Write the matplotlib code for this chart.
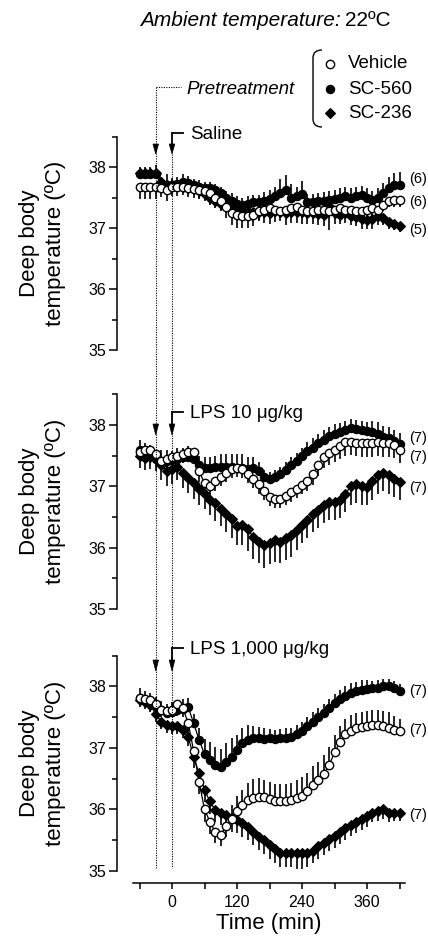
import matplotlib
matplotlib.use('Agg')
import matplotlib.pyplot as plt
import numpy as np
from matplotlib.patches import Polygon, PathPatch
from matplotlib.path import Path
from matplotlib.lines import Line2D

plt.rcParams['font.family'] = ['Liberation Sans', 'DejaVu Sans']

# ---------------- data ----------------
time_min = list(range(-60, 430, 10))  # 49 samples, 10-min interval

# Panel 1: Saline
veh1 = [37.68, 37.68, 37.68, 37.68, 37.66, 37.62, 37.67,
        37.67, 37.68, 37.66, 37.64, 37.62, 37.60, 37.58,
        37.50, 37.45, 37.35, 37.25, 37.22, 37.20, 37.20,
        37.22, 37.28, 37.30, 37.32, 37.30, 37.28, 37.30,
        37.32, 37.35, 37.30, 37.28, 37.28, 37.30, 37.30,
        37.28, 37.30, 37.32, 37.30, 37.30, 37.28, 37.28,
        37.30, 37.32, 37.30, 37.38, 37.45, 37.46, 37.46]
sc560_1 = [37.88, 37.88, 37.88, 37.88, 37.72, 37.70, 37.70,
           37.72, 37.76, 37.73, 37.70, 37.68, 37.66, 37.66,
           37.62, 37.58, 37.50, 37.45, 37.40, 37.38, 37.40,
           37.42, 37.42, 37.44, 37.47, 37.52, 37.58, 37.62,
           37.50, 37.52, 37.55, 37.43, 37.43, 37.44, 37.45,
           37.46, 37.48, 37.50, 37.52, 37.50, 37.52, 37.54,
           37.50, 37.46, 37.50, 37.58, 37.65, 37.70, 37.71]
sc236_1 = [37.90, 37.90, 37.90, 37.90, 37.76, 37.70, 37.70,
           37.71, 37.68, 37.66, 37.64, 37.60, 37.56, 37.50,
           37.45, 37.40, 37.36, 37.32, 37.30, 37.28, 37.27,
           37.27, 37.26, 37.27, 37.25, 37.28, 37.27, 37.25,
           37.27, 37.26, 37.27, 37.24, 37.25, 37.23, 37.22,
           37.36, 37.25, 37.22, 37.24, 37.20, 37.18, 37.14,
           37.13, 37.14, 37.20, 37.17, 37.10, 37.06, 37.04]
sem_veh1 = [0.20, 0.20, 0.20, 0.20, 0.15, 0.18, 0.15,
            0.15, 0.14, 0.15, 0.14, 0.15, 0.14, 0.15,
            0.15, 0.16, 0.18, 0.20, 0.22, 0.20, 0.20,
            0.18, 0.15, 0.14, 0.12, 0.12, 0.12, 0.12,
            0.12, 0.12, 0.14, 0.12, 0.12, 0.12, 0.12,
            0.12, 0.12, 0.12, 0.12, 0.12, 0.10, 0.10,
            0.10, 0.10, 0.10, 0.10, 0.10, 0.12, 0.12]
sem_560_1 = [0.12, 0.12, 0.12, 0.15, 0.12, 0.18, 0.12,
             0.12, 0.12, 0.12, 0.10, 0.10, 0.10, 0.10,
             0.10, 0.10, 0.10, 0.12, 0.12, 0.12, 0.12,
             0.12, 0.12, 0.15, 0.15, 0.15, 0.22, 0.25,
             0.22, 0.15, 0.22, 0.12, 0.12, 0.14, 0.14,
             0.14, 0.15, 0.15, 0.15, 0.15, 0.15, 0.15,
             0.15, 0.15, 0.15, 0.15, 0.18, 0.20, 0.20]
sem_236_1 = [0.10, 0.10, 0.10, 0.10, 0.10, 0.10, 0.10,
             0.10, 0.10, 0.10, 0.10, 0.10, 0.12, 0.12,
             0.12, 0.12, 0.12, 0.12, 0.15, 0.15, 0.15,
             0.15, 0.15, 0.18, 0.18, 0.18, 0.15, 0.20,
             0.18, 0.18, 0.20, 0.18, 0.18, 0.18, 0.18,
             0.40, 0.18, 0.15, 0.15, 0.15, 0.15, 0.15,
             0.15, 0.15, 0.15, 0.12, 0.12, 0.10, 0.10]

# Panel 2: LPS 10 ug/kg
veh2 = [37.56, 37.60, 37.60, 37.52, 37.42, 37.45, 37.48,
        37.50, 37.53, 37.56, 37.56, 37.25, 37.05, 37.00,
        37.08, 37.15, 37.22, 37.28, 37.30, 37.28, 37.20,
        37.12, 37.03, 36.93, 36.83, 36.79, 36.79, 36.84,
        36.90, 36.96, 37.02, 37.08, 37.20, 37.35, 37.48,
        37.55, 37.60, 37.66, 37.72, 37.73, 37.71, 37.70,
        37.70, 37.70, 37.72, 37.70, 37.70, 37.68, 37.60]
sc560_2 = [37.60, 37.55, 37.52, 37.45, 37.40, 37.42, 37.43,
           37.45, 37.47, 37.48, 37.45, 37.35, 37.30, 37.30,
           37.32, 37.32, 37.32, 37.32, 37.30, 37.30, 37.28,
           37.30, 37.25, 37.15, 37.12, 37.15, 37.20, 37.27,
           37.35, 37.42, 37.50, 37.57, 37.63, 37.70, 37.76,
           37.82, 37.86, 37.89, 37.92, 37.95, 37.93, 37.92,
           37.90, 37.88, 37.85, 37.80, 37.78, 37.74, 37.69]
sc236_2 = [37.50, 37.46, 37.48, 37.45, 37.35, 37.25, 37.28,
           37.32, 37.22, 37.14, 37.05, 36.95, 36.88, 36.78,
           36.72, 36.63, 36.55, 36.46, 36.36, 36.37, 36.30,
           36.17, 36.10, 36.05, 36.08, 36.12, 36.10, 36.15,
           36.20, 36.28, 36.37, 36.45, 36.55, 36.62, 36.70,
           36.75, 36.75, 36.78, 36.88, 37.00, 37.03, 37.00,
           36.99, 37.08, 37.18, 37.22, 37.18, 37.12, 37.07]
sem_veh2 = [0.12, 0.12, 0.12, 0.15, 0.15, 0.15, 0.15,
            0.15, 0.15, 0.15, 0.15, 0.18, 0.18, 0.15,
            0.15, 0.15, 0.15, 0.15, 0.15, 0.15, 0.15,
            0.15, 0.15, 0.15, 0.15, 0.15, 0.15, 0.15,
            0.15, 0.15, 0.15, 0.15, 0.18, 0.18, 0.18,
            0.20, 0.20, 0.22, 0.22, 0.22, 0.22, 0.22,
            0.22, 0.22, 0.22, 0.22, 0.22, 0.22, 0.22]
sem_560_2 = [0.15, 0.15, 0.15, 0.15, 0.20, 0.18, 0.15,
             0.18, 0.15, 0.18, 0.18, 0.15, 0.18, 0.18,
             0.18, 0.20, 0.20, 0.20, 0.22, 0.22, 0.20,
             0.18, 0.15, 0.12, 0.12, 0.12, 0.12, 0.12,
             0.12, 0.12, 0.12, 0.15, 0.15, 0.15, 0.15,
             0.15, 0.15, 0.15, 0.15, 0.15, 0.15, 0.15,
             0.15, 0.18, 0.20, 0.18, 0.18, 0.18, 0.18]
sem_236_2 = [0.20, 0.20, 0.20, 0.20, 0.25, 0.25, 0.25,
             0.22, 0.25, 0.25, 0.25, 0.25, 0.25, 0.25,
             0.28, 0.28, 0.30, 0.30, 0.32, 0.32, 0.35,
             0.35, 0.35, 0.38, 0.35, 0.35, 0.35, 0.35,
             0.35, 0.32, 0.30, 0.30, 0.30, 0.30, 0.30,
             0.30, 0.30, 0.30, 0.30, 0.30, 0.30, 0.30,
             0.30, 0.30, 0.30, 0.30, 0.30, 0.30, 0.30]

# Panel 3: LPS 1,000 ug/kg
veh3 = [37.82, 37.80, 37.78, 37.72, 37.62, 37.60, 37.62,
        37.72, 37.65, 37.40, 36.95, 36.45, 36.00, 35.80,
        35.63, 35.59, 35.73, 35.85, 35.97, 36.07, 36.15,
        36.19, 36.21, 36.20, 36.17, 36.14, 36.13, 36.14,
        36.15, 36.18, 36.22, 36.30, 36.40, 36.48, 36.58,
        36.72, 36.93, 37.10, 37.22, 37.28, 37.32, 37.34,
        37.35, 37.37, 37.37, 37.35, 37.33, 37.30, 37.27]
sc560_3 = [37.82, 37.78, 37.75, 37.68, 37.62, 37.57, 37.59,
           37.62, 37.64, 37.66, 37.40, 37.13, 36.90, 36.80,
           36.72, 36.69, 36.78, 36.86, 36.96, 37.08, 37.13,
           37.16, 37.16, 37.15, 37.16, 37.15, 37.16, 37.17,
           37.18, 37.22, 37.27, 37.35, 37.43, 37.50, 37.57,
           37.65, 37.73, 37.80, 37.85, 37.90, 37.93, 37.95,
           37.96, 37.97, 37.98, 38.00, 38.00, 37.97, 37.92]
sc236_3 = [37.78, 37.75, 37.70, 37.55, 37.43, 37.37, 37.35,
           37.35, 37.29, 37.18, 36.85, 36.59, 36.32, 36.13,
           35.99, 35.94, 35.91, 35.86, 35.83, 35.78, 35.72,
           35.64, 35.56, 35.50, 35.42, 35.35, 35.29, 35.29,
           35.29, 35.29, 35.29, 35.29, 35.33, 35.40, 35.46,
           35.52, 35.57, 35.64, 35.70, 35.75, 35.80, 35.84,
           35.90, 35.94, 35.97, 36.00, 35.95, 35.94, 35.94]
sem_veh3 = [0.12, 0.12, 0.12, 0.12, 0.12, 0.12, 0.12,
            0.20, 0.15, 0.15, 0.18, 0.20, 0.20, 0.20,
            0.18, 0.18, 0.18, 0.22, 0.25, 0.25, 0.28,
            0.30, 0.30, 0.28, 0.28, 0.28, 0.28, 0.28,
            0.28, 0.30, 0.30, 0.30, 0.30, 0.30, 0.30,
            0.30, 0.28, 0.25, 0.25, 0.25, 0.25, 0.25,
            0.25, 0.25, 0.25, 0.25, 0.25, 0.22, 0.20]
sem_560_3 = [0.15, 0.15, 0.15, 0.15, 0.15, 0.15, 0.15,
             0.15, 0.15, 0.15, 0.15, 0.20, 0.25, 0.30,
             0.30, 0.30, 0.30, 0.30, 0.25, 0.25, 0.25,
             0.20, 0.18, 0.18, 0.15, 0.15, 0.15, 0.15,
             0.15, 0.15, 0.15, 0.15, 0.15, 0.15, 0.15,
             0.15, 0.15, 0.15, 0.15, 0.15, 0.15, 0.15,
             0.15, 0.12, 0.12, 0.12, 0.12, 0.12, 0.12]
sem_236_3 = [0.12, 0.12, 0.12, 0.12, 0.12, 0.12, 0.12,
             0.12, 0.12, 0.15, 0.18, 0.18, 0.20, 0.20,
             0.20, 0.20, 0.22, 0.22, 0.22, 0.22, 0.22,
             0.22, 0.22, 0.22, 0.22, 0.22, 0.22, 0.22,
             0.22, 0.25, 0.25, 0.22, 0.20, 0.20, 0.20,
             0.20, 0.20, 0.20, 0.20, 0.18, 0.18, 0.18,
             0.18, 0.15, 0.15, 0.15, 0.15, 0.12, 0.12]

group_names = ['Vehicle', 'SC-560', 'SC-236']
panel_titles = ['Saline', 'LPS 10 \u03bcg/kg', 'LPS 1,000 \u03bcg/kg']
n_labels = [['(6)', '(6)', '(5)'], ['(7)', '(7)', '(7)'], ['(7)', '(7)', '(7)']]
n_label_y = [[37.80, 37.43, 36.97], [37.79, 37.48, 36.97], [37.93, 37.29, 35.91]]
y_ticks = [35, 36, 37, 38]
x_ticks = [0, 120, 240, 360]
pretreat_time = -30
inject_time = 0

panels = [
    {'Vehicle': (veh1, sem_veh1), 'SC-560': (sc560_1, sem_560_1), 'SC-236': (sc236_1, sem_236_1)},
    {'Vehicle': (veh2, sem_veh2), 'SC-560': (sc560_2, sem_560_2), 'SC-236': (sc236_2, sem_236_2)},
    {'Vehicle': (veh3, sem_veh3), 'SC-560': (sc560_3, sem_560_3), 'SC-236': (sc236_3, sem_236_3)},
]

# ---------------- styles ----------------
W, H = 428, 942
def fx(x): return x / W
def fy(y): return 1 - y / H

styles = {
    'Vehicle': dict(marker='o', ms=6.0, mfc='white', mec='black', mew=1.0),
    'SC-560': dict(marker='o', ms=6.0, mfc='black', mec='black', mew=0.8),
    'SC-236': dict(marker='D', ms=5.0, mfc='black', mec='black', mew=0.8),
}

fig = plt.figure(figsize=(W / 100, H / 100), dpi=100)

panel_px = [(136.5, 350.0), (394.3, 609.0), (655.7, 871.0)]
left_px, right_px = 133, 405
axes = []
t = np.array(time_min)
for i, (top, bot) in enumerate(panel_px):
    ax = fig.add_axes([fx(left_px), fy(bot), (right_px - left_px) / W, (bot - top) / H])
    axes.append(ax)
    data = panels[i]
    for name in ['SC-236', 'SC-560', 'Vehicle']:
        vals, sem = data[name]
        vals = np.array(vals); sem = np.array(sem)
        if name == 'SC-560':
            up = np.ones_like(t, dtype=bool)
        elif name == 'Vehicle' and i == 2:
            up = t > 100
        else:
            up = np.zeros_like(t, dtype=bool)
        lower = np.where(up, 0, sem)
        upper = np.where(up, sem, 0)
        ax.errorbar(t, vals, yerr=[lower, upper], fmt='none', ecolor='black',
                    elinewidth=1.2, capsize=0, zorder=2)
        ax.plot(t, vals, color='black', lw=0.9, zorder=3, **styles[name])
    ax.set_xlim(-72, 430)
    ax.set_ylim(35, 38.5)
    ax.spines['top'].set_visible(False)
    ax.spines['right'].set_visible(False)
    ax.spines['left'].set_position(('outward', 16 * 0.72))
    ax.spines['left'].set_linewidth(1.1)
    ax.set_yticks(y_ticks)
    ax.set_yticks([35.5, 36.5, 37.5, 38.5], minor=True)
    ax.tick_params(axis='y', which='major', direction='out', length=6, width=1.1,
                   labelsize=11.5, pad=2)
    ax.tick_params(axis='y', which='minor', direction='out', length=3.5, width=1.1)
    for lab, yv in zip(n_labels[i], n_label_y[i]):
        ax.text(437, yv, lab, fontsize=10.5, ha='left', va='center', clip_on=False)
    cy = 1 - ((top + bot) / 2) / H
    fig.text(fx(42.5), cy, 'Deep body\ntemperature (\u00baC)', rotation=90,
             ha='center', va='center', fontsize=16, linespacing=1.3, multialignment='center')
    if i < 2:
        ax.spines['bottom'].set_visible(False)
        ax.set_xticks([])
    else:
        ax.spines['bottom'].set_position(('outward', 12 * 0.72))
        ax.spines['bottom'].set_linewidth(1.1)
        ax.set_xticks(x_ticks)
        ax.set_xticks([-60, 60, 180, 300, 420], minor=True)
        ax.tick_params(axis='x', which='both', direction='out', length=4.5, width=1.1,
                       labelsize=11.5, pad=4)
        ax.set_xlabel('Time (min)', fontsize=16, labelpad=2)

ax3 = axes[2]
x_pre = ax3.transData.transform((pretreat_time, 35))[0]
x_inj = ax3.transData.transform((inject_time, 35))[0]

def fline(xs, ys, **kw):
    fig.add_artist(Line2D([fx(v) for v in xs], [fy(v) for v in ys],
                          transform=fig.transFigure, color='black', **kw))

def head(x, ytop, ytip):
    fig.add_artist(Polygon([(fx(x - 2.8), fy(ytop)), (fx(x + 2.8), fy(ytop)), (fx(x), fy(ytip))],
                           closed=True, transform=fig.transFigure, facecolor='black',
                           edgecolor='black', lw=0.5))

dot = dict(lw=0.8, linestyle=(0, (1, 1.2)))
# Pretreatment dotted guide
fline([x_pre, 181], [87, 87], **dot)
fline([x_pre, x_pre], [87, 868], **dot)
fline([x_inj, x_inj], [154, 868], **dot)
fig.text(fx(186), fy(90), 'Pretreatment', fontsize=13.5, style='italic', ha='left', va='center')

# Injection brackets and arrows per panel
label_y = [133, 412, 648]
head_top = [144, 424, 660]
head_tip = [154, 435, 671]
for i in range(3):
    fline([x_inj, x_inj], [label_y[i], head_top[i]], lw=1.3)
    fline([x_inj, x_inj + 11], [label_y[i], label_y[i]], lw=1.3)
    head(x_inj, head_top[i], head_tip[i])
    head(x_pre, head_top[i], head_tip[i])
    fig.text(fx(190), fy(label_y[i] + 1.5), panel_titles[i], fontsize=13.5,
             ha='left', va='center')

# Title
fig.text(fx(341), fy(21), 'Ambient temperature:', fontsize=15, style='italic',
         ha='right', va='center')
fig.text(fx(345), fy(21), '22\u00baC', fontsize=15, ha='left', va='center')

# Legend with bracket
verts = [(fx(322), fy(50)), (fx(313), fy(50)), (fx(313), fy(58)),
         (fx(313), fy(119)), (fx(313), fy(127)), (fx(322), fy(127))]
codes = [Path.MOVETO, Path.CURVE3, Path.CURVE3, Path.LINETO, Path.CURVE3, Path.CURVE3]
fig.add_artist(PathPatch(Path(verts, codes), transform=fig.transFigure,
                         facecolor='none', edgecolor='black', lw=1.0))
leg_y = [64, 89, 113]
for name, yy in zip(group_names, leg_y):
    fig.add_artist(Line2D([fx(330)], [fy(yy)], transform=fig.transFigure,
                          linestyle='none', **styles[name]))
    fig.text(fx(348), fy(yy), name, fontsize=13.5, ha='left', va='center')

fig.savefig('out.png', dpi=100)
